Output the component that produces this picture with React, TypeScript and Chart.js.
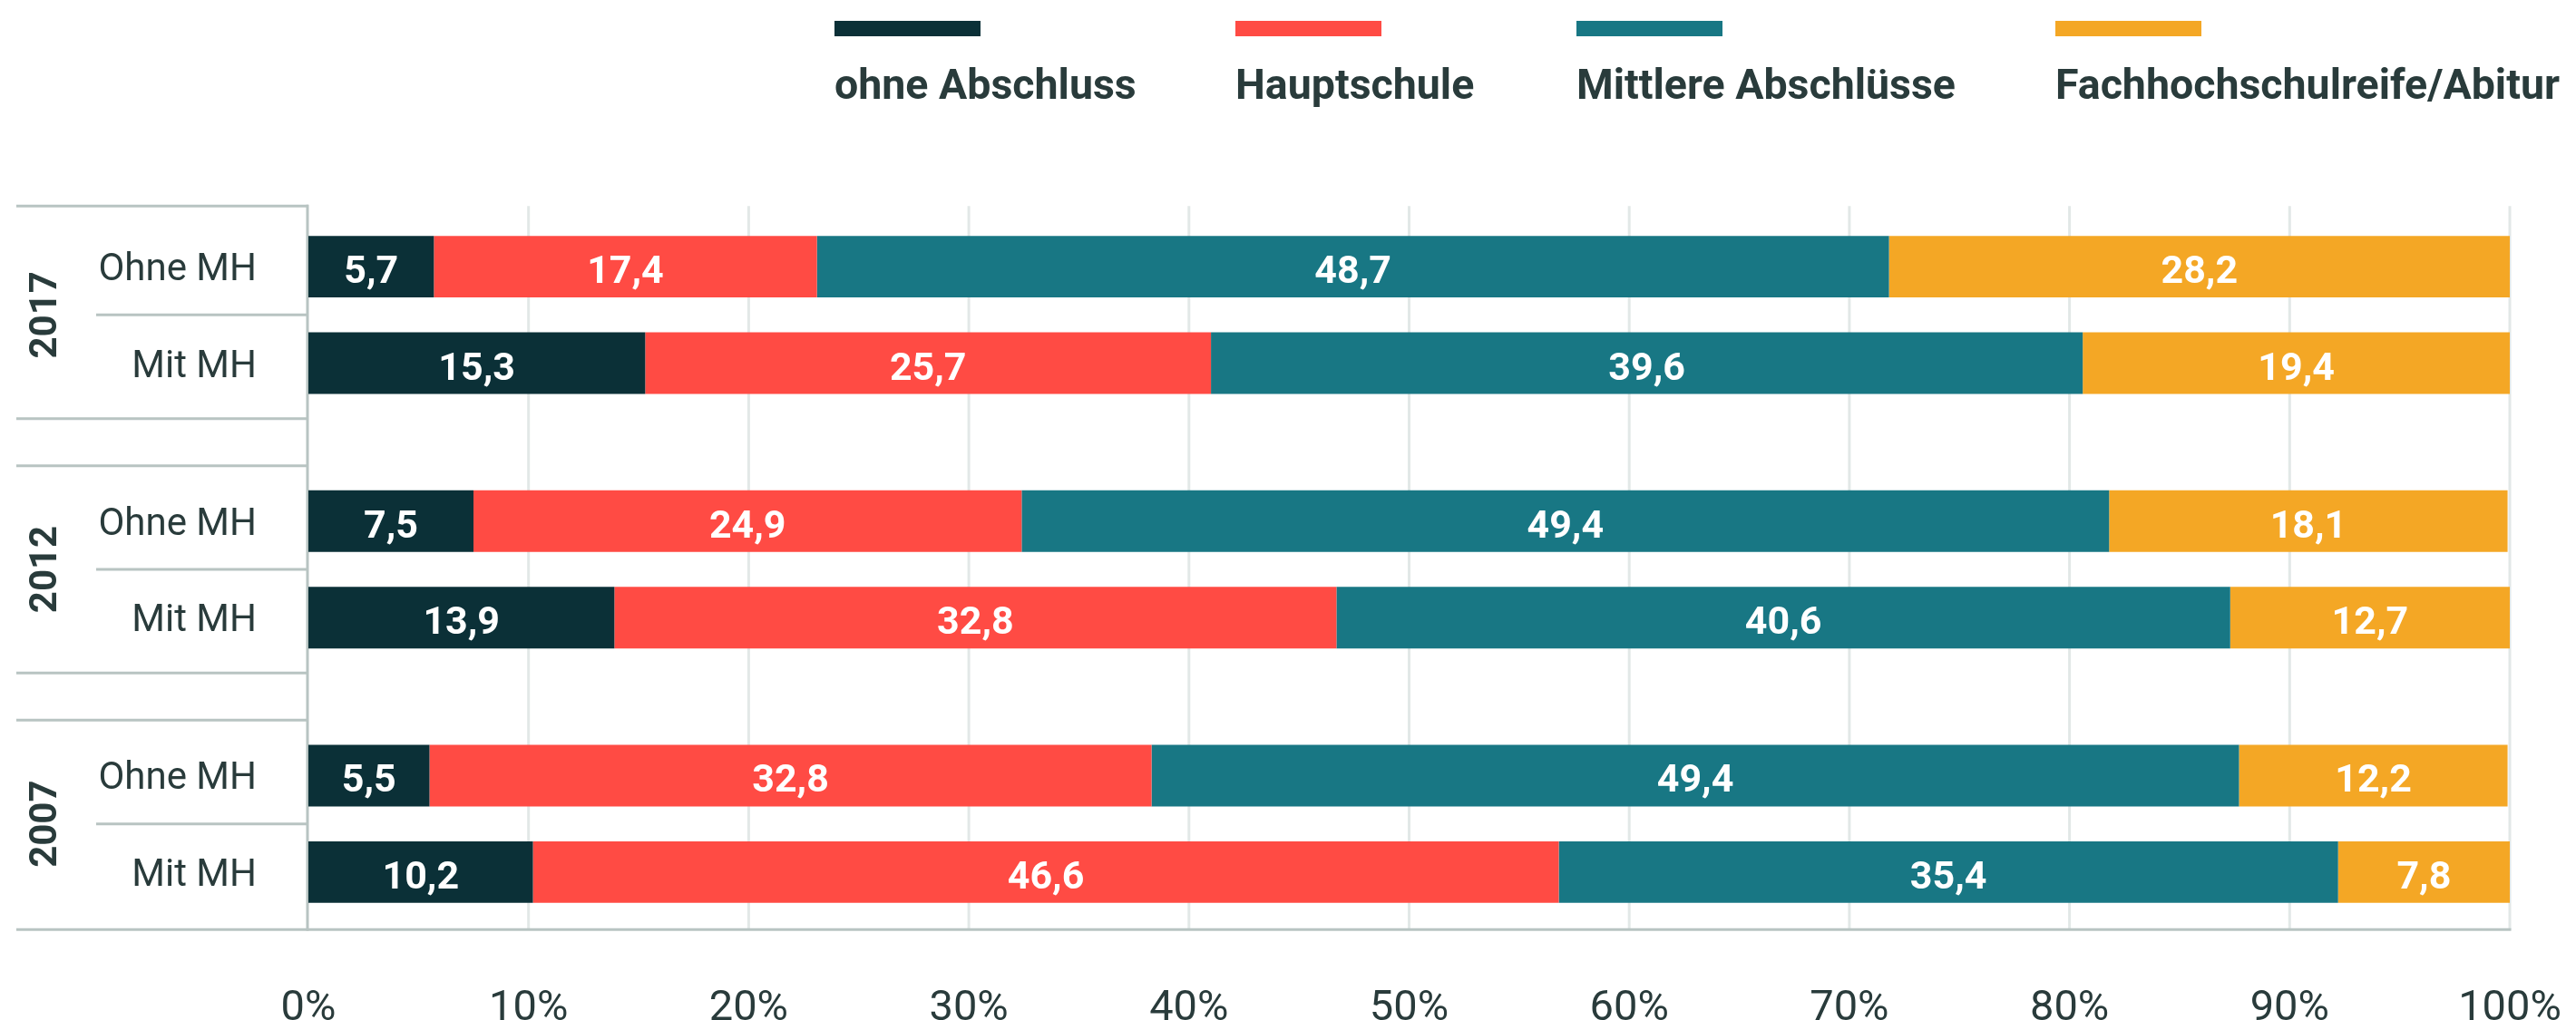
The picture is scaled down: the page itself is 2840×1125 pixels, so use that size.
import React, { useEffect, useRef } from 'react';
import { Chart, registerables } from 'chart.js';

Chart.register(...registerables);

// ---- data ----
const years = ['2017', '2012', '2007'];
const groups = ['Ohne MH', 'Mit MH'];
const levels = ['ohne Abschluss', 'Hauptschule', 'Mittlere Abschlüsse', 'Fachhochschulreife/Abitur'];
const levelColors = ['#0b3037', '#ff4b44', '#187784', '#f4a725'];

const ohneAbschlussOhneMH = [5.7, 7.5, 5.5];
const ohneAbschlussMitMH = [15.3, 13.9, 10.2];
const hauptschuleOhneMH = [17.4, 24.9, 32.8];
const hauptschuleMitMH = [25.7, 32.8, 46.6];
const mittlereOhneMH = [48.7, 49.4, 49.4];
const mittlereMitMH = [39.6, 40.6, 35.4];
const abiturOhneMH = [28.2, 18.1, 12.2];
const abiturMitMH = [19.4, 12.7, 7.8];

const seriesOhneMH = [ohneAbschlussOhneMH, hauptschuleOhneMH, mittlereOhneMH, abiturOhneMH];
const seriesMitMH = [ohneAbschlussMitMH, hauptschuleMitMH, mittlereMitMH, abiturMitMH];

const xMin = 0;
const xMax = 100;
const xStep = 10;

// ---- styles ----
const TEXT = '#293b3b';
const AXIS = '#b8c4c2';
const GRID = '#e2e8e7';
const FONT = 'Roboto';

const fmt = (v: number) => v.toFixed(1).replace('.', ',');

const hierarchyPlugin = {
  id: 'hierarchy',
  beforeDatasetsDraw(chart: any) {
    const { ctx } = chart;
    const x = chart.scales.x;
    const y = chart.scales.y;
    const c0 = y.getPixelForValue(0);
    const c1 = y.getPixelForValue(1);
    const C = c1 - c0;
    const top = c0 - 0.428 * C;
    const bottom = y.getPixelForValue(years.length - 1) + 0.415 * C;
    const left = x.getPixelForValue(xMin);
    const right = x.getPixelForValue(xMax);
    ctx.save();
    // grid lines
    ctx.strokeStyle = GRID;
    ctx.lineWidth = 3;
    x.ticks.forEach((t: any) => {
      if (t.value === xMin) return;
      const px = x.getPixelForValue(t.value);
      ctx.beginPath();
      ctx.moveTo(px, top);
      ctx.lineTo(px, bottom);
      ctx.stroke();
    });
    // axis lines
    ctx.strokeStyle = AXIS;
    const hline = (x0: number, x1: number, yy: number) => {
      ctx.beginPath();
      ctx.moveTo(x0, yy);
      ctx.lineTo(x1, yy);
      ctx.stroke();
    };
    ctx.beginPath();
    ctx.moveTo(left - 1, top - 1.5);
    ctx.lineTo(left - 1, bottom + 1.5);
    ctx.stroke();
    years.forEach((_, i) => {
      const c = y.getPixelForValue(i);
      const gTop = i === 0 ? top : (c + y.getPixelForValue(i - 1)) / 2 + 26;
      const gBot = i === years.length - 1 ? bottom : (c + y.getPixelForValue(i + 1)) / 2 - 26;
      hline(18, left, gTop);
      hline(18, i === years.length - 1 ? right + 1.5 : left, gBot);
      hline(106, left, c);
    });
    // year labels (rotated)
    ctx.fillStyle = TEXT;
    ctx.font = `bold 42px ${FONT}`;
    ctx.textAlign = 'center';
    ctx.textBaseline = 'alphabetic';
    years.forEach((yr, i) => {
      const c = y.getPixelForValue(i);
      ctx.save();
      ctx.translate(47, c);
      ctx.rotate(-Math.PI / 2);
      ctx.fillText(yr, 0, 15);
      ctx.restore();
    });
    // group labels
    ctx.font = `42px ${FONT}`;
    ctx.textAlign = 'right';
    groups.forEach((g, gi) => {
      const meta = chart.getDatasetMeta(gi);
      meta.data.forEach((bar: any) => {
        ctx.fillText(g, 283, bar.y + 15);
      });
    });
    ctx.restore();
  },
  afterDatasetsDraw(chart: any) {
    const { ctx } = chart;
    ctx.save();
    ctx.fillStyle = '#ffffff';
    ctx.font = `bold 43px ${FONT}`;
    ctx.textAlign = 'center';
    ctx.textBaseline = 'alphabetic';
    chart.data.datasets.forEach((ds: any, di: number) => {
      const meta = chart.getDatasetMeta(di);
      meta.data.forEach((bar: any, i: number) => {
        const v = ds.data[i];
        const cx = (bar.x + bar.base) / 2;
        ctx.fillText(fmt(v), cx, bar.y + 18);
      });
    });
    ctx.restore();
  },
  afterDraw(chart: any) {
    const { ctx } = chart;
    const legendX = [920, 1362, 1738, 2266];
    ctx.save();
    ctx.font = `bold 46.5px ${FONT}`;
    ctx.textAlign = 'left';
    ctx.textBaseline = 'alphabetic';
    levels.forEach((lab, i) => {
      ctx.fillStyle = levelColors[i];
      ctx.fillRect(legendX[i], 23, 161, 17);
      ctx.fillStyle = TEXT;
      ctx.fillText(lab, legendX[i], 109);
    });
    ctx.restore();
  },
};

export default function App() {
  const ref = useRef<HTMLCanvasElement | null>(null);
  useEffect(() => {
    if (!ref.current) return;
    const datasets: any[] = [];
    levels.forEach((lab, li) => {
      datasets.push({
        label: lab,
        stack: groups[0],
        data: seriesOhneMH[li],
        backgroundColor: levelColors[li],
        borderWidth: 0,
      });
      datasets.push({
        label: lab,
        stack: groups[1],
        data: seriesMitMH[li],
        backgroundColor: levelColors[li],
        borderWidth: 0,
      });
    });
    const chart = new Chart(ref.current, {
      type: 'bar',
      data: { labels: years, datasets },
      options: {
        indexAxis: 'y',
        responsive: false,
        devicePixelRatio: 1,
        animation: false,
        barPercentage: 0.638,
        categoryPercentage: 0.7587,
        layout: { autoPadding: false, padding: { left: 340, right: 73, top: 207, bottom: 0 } },
        plugins: {
          legend: { display: false },
          tooltip: { enabled: false },
          title: { display: false },
        },
        scales: {
          x: {
            type: 'linear',
            stacked: true,
            min: xMin,
            max: xMax,
            grid: { display: false },
            border: { display: false },
            ticks: {
              stepSize: xStep,
              padding: 28,
              color: TEXT,
              font: { family: FONT, size: 47 },
              callback: (v: any) => `${v}%`,
            },
            afterFit: (scale: any) => {
              scale.height = 76;
              scale.paddingLeft = 0;
              scale.paddingRight = 0;
            },
          },
          y: {
            type: 'category',
            stacked: true,
            display: false,
            offset: true,
          },
        },
      } as any,
      plugins: [hierarchyPlugin],
    });
    return () => chart.destroy();
  }, []);
  return (
    <div style={{ position: 'fixed', left: 0, top: 0, width: 2840, height: 1125, background: '#fff' }}>
      <canvas ref={ref} width={2840} height={1125} style={{ display: 'block' }} />
    </div>
  );
}
